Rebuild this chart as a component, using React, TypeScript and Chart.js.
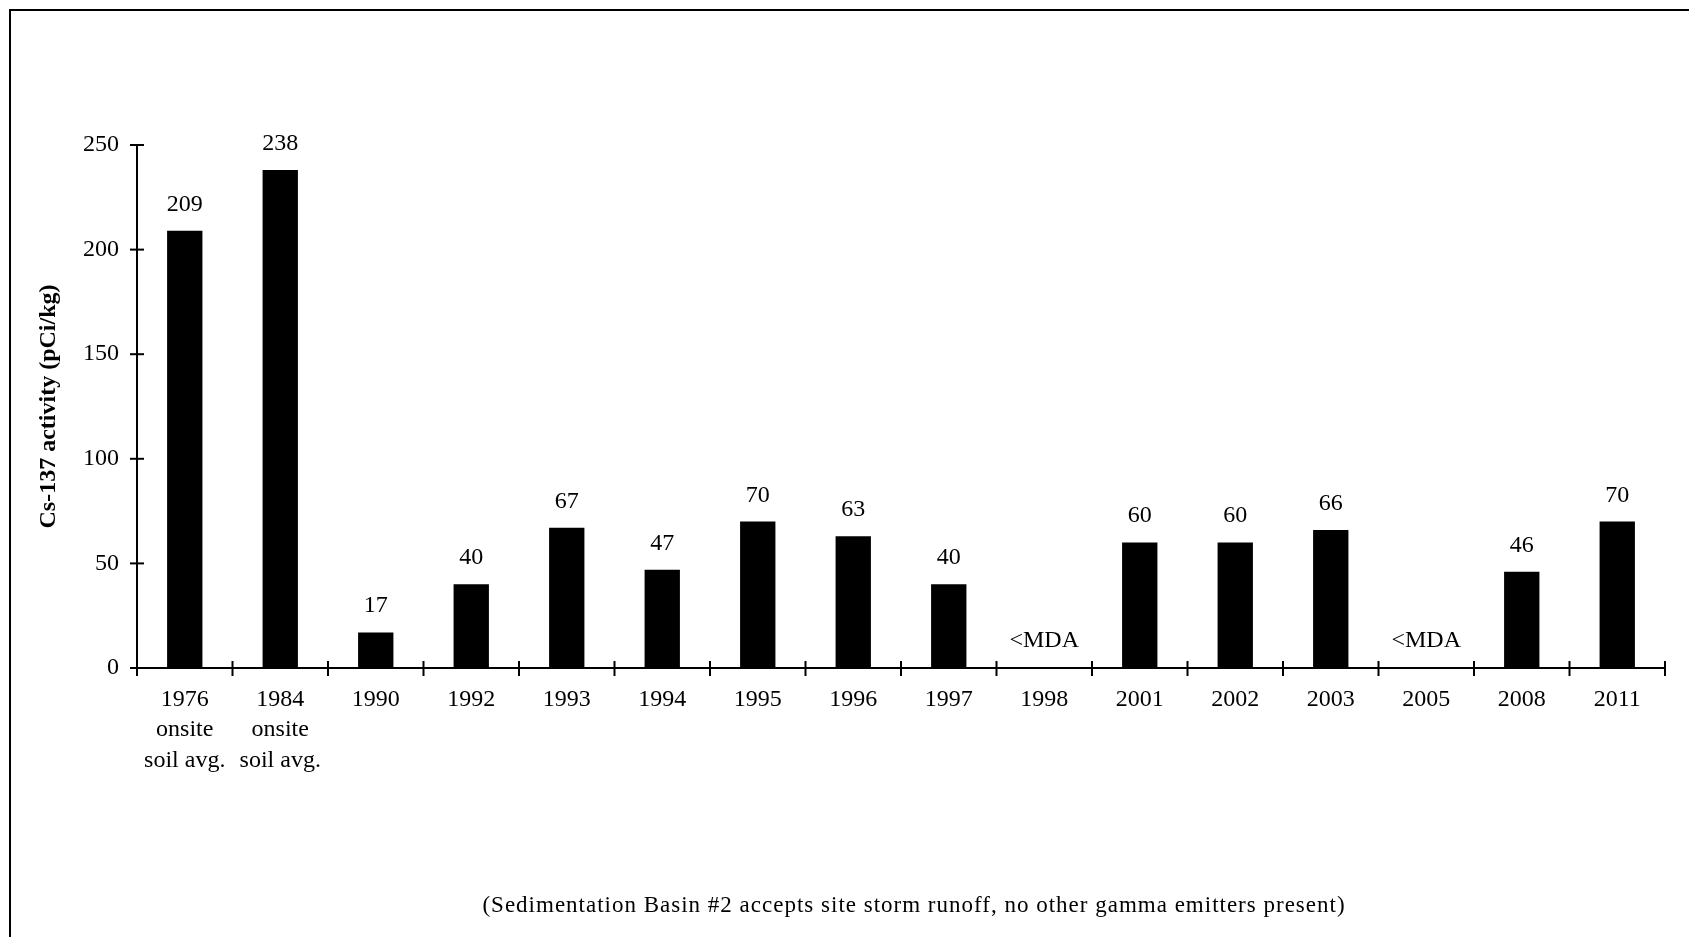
import React, { useEffect, useRef } from 'react';
import { Chart, registerables } from 'chart.js';

Chart.register(...registerables);

const categories: (string | string[])[] = [
  ['1976', 'onsite', 'soil avg.'],
  ['1984', 'onsite', 'soil avg.'],
  '1990', '1992', '1993', '1994', '1995', '1996', '1997', '1998',
  '2001', '2002', '2003', '2005', '2008', '2011',
];
const values: (number | null)[] = [209, 238, 17, 40, 67, 47, 70, 63, 40, null, 60, 60, 66, null, 46, 70];
const yTicks = [0, 50, 100, 150, 200, 250];
const mdaLabel = '<MDA';
const mdaLevel = 13;
const yTitle = 'Cs-137 activity (pCi/kg)';
const note = '(Sedimentation Basin #2 accepts site storm runoff, no other gamma emitters present)';

const FONT = "'Liberation Serif', 'Times New Roman', serif";

const customDraw = {
  id: 'customDraw',
  afterDraw(chart: any) {
    const ctx = chart.ctx as CanvasRenderingContext2D;
    const x = chart.scales.x;
    const y = chart.scales.y;
    const ca = chart.chartArea;
    ctx.save();
    ctx.strokeStyle = '#000';
    ctx.fillStyle = '#000';
    // frame
    ctx.lineWidth = 2;
    ctx.beginPath();
    ctx.moveTo(10, 940);
    ctx.lineTo(10, 10);
    ctx.lineTo(1700, 10);
    ctx.stroke();
    // axes
    const y0 = y.getPixelForValue(0);
    const yTop = y.getPixelForValue(250);
    ctx.beginPath();
    ctx.moveTo(ca.left, yTop);
    ctx.lineTo(ca.left, y0);
    ctx.lineTo(ca.right, y0);
    ctx.stroke();
    // y ticks (cross)
    yTicks.forEach((v) => {
      const py = y.getPixelForValue(v);
      ctx.beginPath();
      ctx.moveTo(ca.left - 7, py);
      ctx.lineTo(ca.left + 7, py);
      ctx.stroke();
    });
    // x ticks at category boundaries
    const n = categories.length;
    for (let i = 0; i <= n; i++) {
      const px = i === 0 ? ca.left : i === n ? ca.right : (x.getPixelForValue(i - 1) + x.getPixelForValue(i)) / 2;
      ctx.beginPath();
      ctx.moveTo(px, y0 - 7);
      ctx.lineTo(px, y0 + 8);
      ctx.stroke();
    }
    // value labels
    ctx.font = `24px ${FONT}`;
    ctx.textAlign = 'center';
    ctx.textBaseline = 'alphabetic';
    const meta = chart.getDatasetMeta(0);
    values.forEach((v, i) => {
      const px = x.getPixelForValue(i);
      if (v === null) {
        ctx.textBaseline = 'middle';
        ctx.fillText(mdaLabel, px, y.getPixelForValue(mdaLevel));
        ctx.textBaseline = 'alphabetic';
      } else {
        const bar = meta.data[i];
        ctx.fillText(String(v), px, bar.y - 20);
      }
    });
    // note below chart
    ctx.font = `23px ${FONT}`;
    (ctx as any).letterSpacing = '1px';
    ctx.textBaseline = 'middle';
    ctx.fillText(note, 914, 906);
    ctx.restore();
  },
};

export default function App() {
  const ref = useRef<HTMLCanvasElement>(null);
  useEffect(() => {
    if (!ref.current) return;
    const chart = new Chart(ref.current, {
      type: 'bar',
      data: {
        labels: categories,
        datasets: [
          {
            data: values,
            backgroundColor: '#000',
            borderWidth: 0,
            categoryPercentage: 1,
            barPercentage: 0.37,
          },
        ],
      },
      options: {
        animation: false,
        responsive: false,
        maintainAspectRatio: false,
        layout: { padding: { top: 145, right: 24, left: 0, bottom: 0 } },
        plugins: { legend: { display: false }, tooltip: { enabled: false } },
        scales: {
          x: {
            grid: { display: false },
            border: { display: false },
            ticks: {
              color: '#000',
              font: { family: FONT, size: 24, lineHeight: 1.28 },
              padding: 8,
              maxRotation: 0,
              autoSkip: false,
            },
            afterFit: (s: any) => {
              s.height = 937 - 668;
            },
          },
          y: {
            min: 0,
            max: 250,
            grid: { display: false },
            border: { display: false },
            afterBuildTicks: (s: any) => {
              s.ticks = yTicks.map((v) => ({ value: v }));
            },
            ticks: {
              color: '#000',
              font: { family: FONT, size: 24 },
              padding: 10,
            },
            title: {
              display: true,
              text: yTitle,
              color: '#000',
              font: { family: FONT, size: 24, weight: 'bold' },
              padding: { top: 34, bottom: 0 },
            },
            afterFit: (s: any) => {
              s.width = 137;
            },
          },
        },
      },
      plugins: [customDraw],
    });
    return () => chart.destroy();
  }, []);
  return (
    <div style={{ position: 'fixed', left: 0, top: 0, width: 1689, height: 937, background: '#fff' }}>
      <canvas ref={ref} width={1689} height={937} style={{ width: 1689, height: 937, display: 'block' }} />
    </div>
  );
}
